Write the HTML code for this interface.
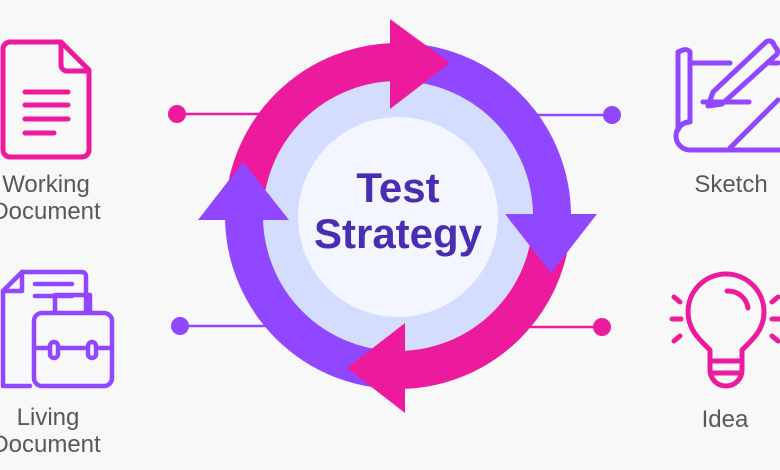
<!DOCTYPE html>
<html><head><meta charset="utf-8"><style>
html,body{margin:0;padding:0;background:#f8f8f8;}
svg{display:block}
text{font-family:"Liberation Sans",sans-serif;}
</style></head><body>
<svg width="780" height="470" viewBox="0 0 780 470" xmlns="http://www.w3.org/2000/svg">
<rect width="780" height="470" fill="#f8f8f8"/>
<line x1="177" y1="114" x2="265" y2="114" stroke="#ec1a9c" stroke-width="2.5"/>
<circle cx="177" cy="114" r="9" fill="#ec1a9c"/>
<line x1="535" y1="115" x2="612" y2="115" stroke="#9146ff" stroke-width="2.5"/>
<circle cx="612" cy="115" r="9" fill="#9146ff"/>
<line x1="180" y1="326" x2="265" y2="326" stroke="#9146ff" stroke-width="2.5"/>
<circle cx="180" cy="326" r="9" fill="#9146ff"/>
<line x1="530" y1="327" x2="602" y2="327" stroke="#ec1a9c" stroke-width="2.5"/>
<circle cx="602" cy="327" r="9" fill="#ec1a9c"/>
<circle cx="398" cy="216" r="140" fill="#d4ddfd"/>
<circle cx="398" cy="217" r="100" fill="#f3f6fe"/>
<g fill="none" stroke-width="38">
<path d="M244,216 A154,154 0 0 1 398,62" stroke="#ec1a9c"/>
<path d="M398,62 A154,154 0 0 1 552,216" stroke="#9146ff"/>
<path d="M552,216 A154,154 0 0 1 398,370" stroke="#ec1a9c"/>
<path d="M398,370 A154,154 0 0 1 244,216" stroke="#9146ff"/>
</g>
<polygon points="390,19 450,63 390,109" fill="#ec1a9c"/>
<polygon points="505,214 597,214 551,273" fill="#9146ff"/>
<polygon points="405,323 347,368 405,413" fill="#ec1a9c"/>
<polygon points="198,220 289,220 243,162" fill="#9146ff"/>
<text x="398" y="202" text-anchor="middle" font-size="42" font-weight="bold" fill="#4a2db0">Test</text>
<text x="398" y="248" text-anchor="middle" font-size="42" font-weight="bold" fill="#4a2db0">Strategy</text>
<g fill="none" stroke="#ec1a9c" stroke-width="5" stroke-linecap="round" stroke-linejoin="round">
<path d="M10,42 H61 L89,70 V150 A7,7 0 0 1 82,157 H10 A7,7 0 0 1 3,150 V49 A7,7 0 0 1 10,42 Z"/>
<path d="M61,42 V65 A6,6 0 0 0 67,71 H89"/>
<line x1="25" y1="92" x2="68" y2="92"/><line x1="25" y1="105" x2="68" y2="105"/>
<line x1="25" y1="119" x2="68" y2="119"/><line x1="25" y1="133" x2="54" y2="133"/>
</g>
<text x="46" y="192" text-anchor="middle" font-size="24" fill="#585858">Working</text>
<text x="46" y="219" text-anchor="middle" font-size="24" fill="#585858">Document</text>
<g fill="none" stroke="#9146ff" stroke-width="4.5" stroke-linecap="round" stroke-linejoin="round">
<path d="M30,386 H3 V291 L22,272 H82 A4,4 0 0 1 86,276 V312"/>
<path d="M3,291 H22 V272"/>
<line x1="35" y1="284" x2="72" y2="284"/><line x1="35" y1="296" x2="72" y2="296"/>
<rect x="34" y="313" width="78" height="73" rx="8"/>
<path d="M55,313 V295 H90 V313"/>
<path d="M34,348 H112"/>
<rect x="50" y="342" width="8" height="16" rx="4" fill="#f8f8f8"/>
<rect x="88" y="342" width="8" height="16" rx="4" fill="#f8f8f8"/>
</g>
<text x="48" y="425" text-anchor="middle" font-size="24" fill="#585858">Living</text>
<text x="46" y="452" text-anchor="middle" font-size="24" fill="#585858">Document</text>
<g fill="none" stroke="#9146ff" stroke-width="5" stroke-linecap="round" stroke-linejoin="round">
<path d="M690,62 V122 A14,14 0 0 0 690,150 H730"/>
<path d="M683,50 A6,6 0 0 1 690,52 V122 A12,12 0 0 0 678,130 V52 Z"/>
<path d="M690,63 H730"/><path d="M770,63 H778"/>
<path d="M703,102 H749"/>
<path d="M713,92 L766,42 A5,5 0 0 1 774,45 L776,48 A5,5 0 0 1 775,56 L722,104 L708,106 Z"/>
<path d="M730,148 L778,100"/><path d="M728,150 H780"/>
</g>
<text x="731" y="192" text-anchor="middle" font-size="24" fill="#585858">Sketch</text>
<g fill="none" stroke="#ec1a9c" stroke-width="5" stroke-linecap="round" stroke-linejoin="round">
<path d="M710,361 V350 C700,340 688,330 688,312 A38,38 0 0 1 764,312 C764,330 752,340 742,350 V361 Z"/>
<path d="M727,291 A20,20 0 0 1 748,308"/>
<path d="M710,361 H742 V370 A16,16 0 0 1 710,370 Z"/>
<line x1="712" y1="373" x2="740" y2="373"/>
<line x1="674" y1="297" x2="680" y2="302"/><line x1="672" y1="319" x2="681" y2="319"/><line x1="674" y1="341" x2="680" y2="336"/>
<line x1="778" y1="297" x2="772" y2="302"/><line x1="780" y1="319" x2="772" y2="319"/><line x1="778" y1="341" x2="772" y2="336"/>
</g>
<text x="725" y="427" text-anchor="middle" font-size="24" fill="#585858">Idea</text>
</svg>
</body></html>
